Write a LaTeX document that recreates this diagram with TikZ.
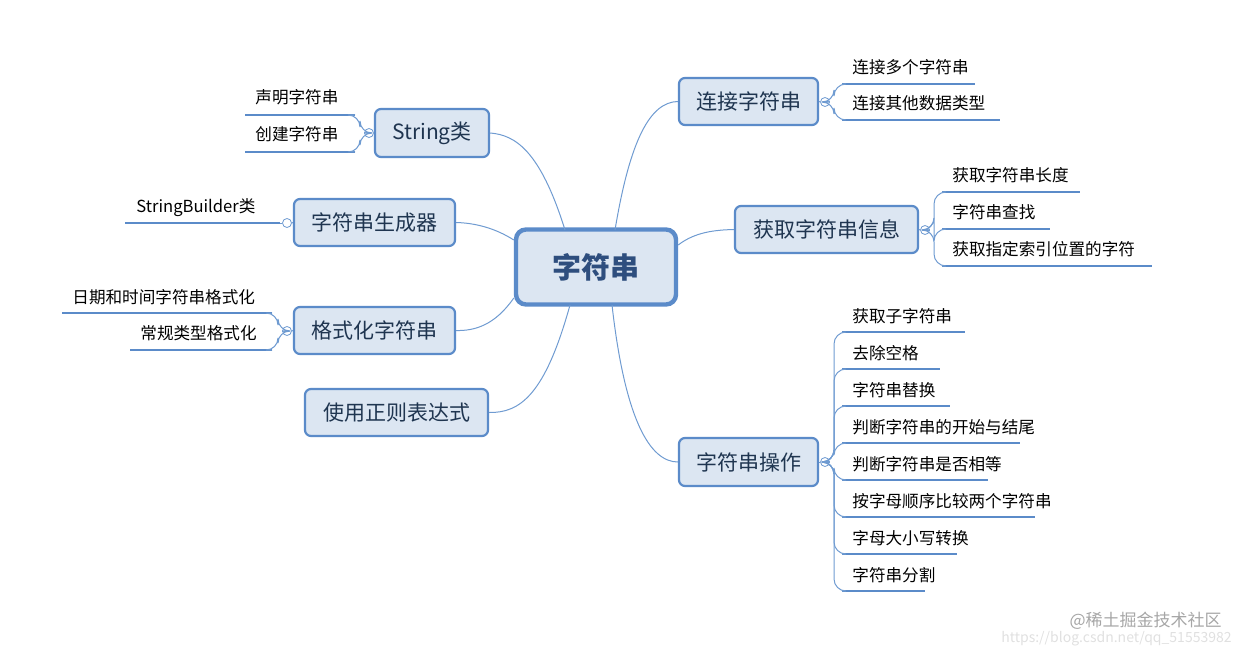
\documentclass[tikz,border=0pt]{standalone}
\usepackage{fontspec}
\setmainfont{Noto Sans CJK SC}
\begin{document}
\begin{tikzpicture}[x=0.5pt,y=-0.5pt,
  bx/.style={draw=bordc,fill=boxf,line width=1.1pt,rounded corners=3pt,inner sep=0,text=txtc,font=\fontsize{10.5}{12}\selectfont},
  rootb/.style={draw=bordc,fill=boxf,line width=2.2pt,rounded corners=5pt,inner sep=0,text=rootc,font=\fontsize{14.5}{16}\selectfont\bfseries},
  lf/.style={font=\fontsize{8.3}{10}\selectfont,anchor=base west,inner sep=0},
  ul/.style={draw=bordc,line width=1.4pt},
  cn/.style={draw=linec,line width=0.5pt},
  cir/.style={circle,draw=linec,fill=white,minimum size=4.5pt,inner sep=0,line width=0.4pt}]
\definecolor{bordc}{HTML}{5B8BC9}
\definecolor{boxf}{HTML}{DCE6F2}
\definecolor{txtc}{HTML}{1F3550}
\definecolor{rootc}{HTML}{2E4E7E}
\definecolor{linec}{HTML}{6F9BD1}
\useasboundingbox (0,0) rectangle (1240,652);
% main boxes
\node[rootb,minimum width=80pt,minimum height=37.5pt] (root) at (596,267) {字符串};
\node[bx,minimum width=57pt,minimum height=24pt] (s) at (432,133) {String类};
\node[bx,minimum width=80.5pt,minimum height=23.5pt] (g) at (374.5,222.5) {字符串生成器};
\node[bx,minimum width=80.5pt,minimum height=23.5pt] (f) at (374.5,330.5) {格式化字符串};
\node[bx,minimum width=91.5pt,minimum height=23.5pt] (r) at (396.5,412.5) {使用正则表达式};
\node[bx,minimum width=69.5pt,minimum height=23.5pt] (l) at (748.5,101.5) {连接字符串};
\node[bx,minimum width=91.5pt,minimum height=23.5pt] (i) at (826.5,229.5) {获取字符串信息};
\node[bx,minimum width=69.5pt,minimum height=24pt] (o) at (748.5,462) {字符串操作};
% main connectors
\draw[cn] (565,230) .. controls (540,150) and (515,135) .. (s.east);
\draw[cn] (root.west|-0,240) .. controls (495,228) and (475,223) .. (g.east);
\draw[cn] (root.west|-0,298) .. controls (495,325) and (475,331) .. (f.east);
\draw[cn] (570,305) .. controls (545,395) and (520,413) .. (r.east);
\draw[cn] (615,230) .. controls (630,140) and (650,102) .. (l.west);
\draw[cn] (root.east|-0,245) .. controls (695,232) and (715,230) .. (i.west);
\draw[cn] (612,305) .. controls (625,420) and (650,462) .. (o.west);
% circles
\node[cir] (cs) at (369,133) {};
\node[cir] (cg) at (287,223) {};
\node[cir] (cf) at (287,331) {};
\node[cir] (cl) at (825,102) {};
\node[cir] (ci) at (925,230) {};
\node[cir] (co) at (825,462) {};
\draw[cn] (s.west) -- (cs.east);
\draw[cn] (g.west) -- (cg.east);
\draw[cn] (f.west) -- (cf.east);
\draw[cn] (l.east) -- (cl.west);
\draw[cn] (i.east) -- (ci.west);
\draw[cn] (o.east) -- (co.west);
% left leaves
\node[lf] (a1) at (255,104) {声明字符串};
\node[lf] (a2) at (255,141) {创建字符串};
\coordinate (a1e) at (355,115); \coordinate (a2e) at (355,152);
\draw[ul] (245,115) -- (a1e); \draw[ul] (245,152) -- (a2e);
\draw[cn,rounded corners=6pt] (cs.west) -| (360,115) -- (a1e);
\draw[cn,rounded corners=6pt] (cs.west) -| (360,152) -- (a2e);
\node[lf] (b1) at (136,213) {StringBuilder类};
\coordinate (b1e) at (280,223);
\draw[ul] (125,223) -- (b1e);
\draw[cn] (cg.west) -- (b1e);
\node[lf] (c1) at (72,303) {日期和时间字符串格式化};
\node[lf] (c2) at (140,339) {常规类型格式化};
\coordinate (c1e) at (272,313); \coordinate (c2e) at (272,350);
\draw[ul] (62,313) -- (c1e); \draw[ul] (130,350) -- (c2e);
\draw[cn,rounded corners=6pt] (cf.west) -| (278,313) -- (c1e);
\draw[cn,rounded corners=6pt] (cf.west) -| (278,350) -- (c2e);
% right leaves
\foreach \n/\t/\y/\e in {d1/连接多个字符串/84/975, d2/连接其他数据类型/120/1000}{
  \node[lf] (\n) at (852,\y-10) {\t};
  \draw[ul] (842,\y) -- (\e,\y);
  \draw[cn,rounded corners=6pt] (cl.east) -| (834,\y) -- (842,\y);}
\foreach \n/\t/\y/\e in {e1/获取字符串长度/192/1080, e2/字符串查找/229/1050, e3/获取指定索引位置的字符/266/1152}{
  \node[lf] (\n) at (952,\y-10) {\t};
  \draw[ul] (942,\y) -- (\e,\y);
  \draw[cn,rounded corners=6pt] (ci.east) -| (934,\y) -- (942,\y);}
\foreach \n/\t/\y/\e in {f1/获取子字符串/332/965, f2/去除空格/369/940, f3/字符串替换/406/950, f4/判断字符串的开始与结尾/443/1020, f5/判断字符串是否相等/480/988, f6/按字母顺序比较两个字符串/517/1035, f7/字母大小写转换/554/957, f8/字符串分割/591/925}{
  \node[lf] (\n) at (852,\y-10) {\t};
  \draw[ul] (842,\y) -- (\e,\y);
  \draw[cn,rounded corners=6pt] (co.east) -| (834,\y) -- (842,\y);}
% watermark
\node[anchor=base east,inner sep=0,text=black!35,font=\fontsize{8.5}{10}\selectfont] (w1) at (1222,626) {@稀土掘金技术社区};
\node[anchor=base east,inner sep=0,text=black!12,font=\fontsize{7}{8}\selectfont] (w2) at (1232,642) {https://blog.csdn.net/qq\_51553982};
\end{tikzpicture}
\end{document}
